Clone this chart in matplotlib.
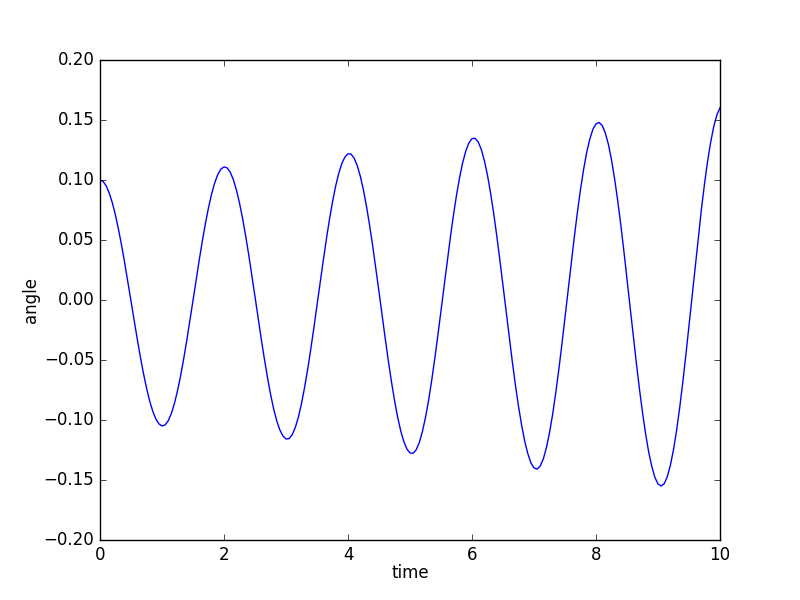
import matplotlib
matplotlib.use('Agg')
import matplotlib.pyplot as plt

# pendulum angle, one value every 0.05 s
time = [i / 20 for i in range(201)]
angle = [
    0.1000, 0.0988, 0.0951, 0.0890, 0.0808, 0.0705, 0.0584, 0.0450, 0.0304, 0.0150,
    -0.0009, -0.0168, -0.0323, -0.0472, -0.0609, -0.0733, -0.0839, -0.0925, -0.0991, -0.1032,
    -0.1050, -0.1041, -0.1007, -0.0947, -0.0863, -0.0757, -0.0632, -0.0490, -0.0336, -0.0172,
    -0.0004, 0.0165, 0.0331, 0.0490, 0.0637, 0.0769, 0.0883, 0.0976, 0.1046, 0.1091,
    0.1109, 0.1101, 0.1066, 0.1004, 0.0917, 0.0808, 0.0679, 0.0532, 0.0373, 0.0203,
    0.0028, -0.0148, -0.0321, -0.0487, -0.0642, -0.0783, -0.0906, -0.1006, -0.1082, -0.1133,
    -0.1158, -0.1155, -0.1123, -0.1062, -0.0976, -0.0863, -0.0728, -0.0576, -0.0408, -0.0230,
    -0.0045, 0.0142, 0.0326, 0.0503, 0.0668, 0.0817, 0.0947, 0.1054, 0.1137, 0.1191,
    0.1218, 0.1215, 0.1181, 0.1119, 0.1029, 0.0914, 0.0775, 0.0617, 0.0445, 0.0259,
    0.0068, -0.0127, -0.0319, -0.0505, -0.0678, -0.0836, -0.0974, -0.1090, -0.1179, -0.1242,
    -0.1275, -0.1277, -0.1248, -0.1188, -0.1097, -0.0978, -0.0836, -0.0670, -0.0487, -0.0292,
    -0.0089, 0.0118, 0.0322, 0.0519, 0.0704, 0.0873, 0.1021, 0.1145, 0.1242, 0.1309,
    0.1345, 0.1347, 0.1317, 0.1255, 0.1161, 0.1039, 0.0890, 0.0721, 0.0533, 0.0331,
    0.0120, -0.0094, -0.0307, -0.0513, -0.0708, -0.0885, -0.1042, -0.1176, -0.1280, -0.1357,
    -0.1399, -0.1409, -0.1384, -0.1325, -0.1231, -0.1107, -0.0955, -0.0777, -0.0581, -0.0368,
    -0.0146, 0.0080, 0.0305, 0.0524, 0.0731, 0.0921, 0.1088, 0.1230, 0.1341, 0.1423,
    0.1468, 0.1479, 0.1454, 0.1392, 0.1297, 0.1168, 0.1010, 0.0829, 0.0626, 0.0406,
    0.0176, -0.0059, -0.0293, -0.0521, -0.0738, -0.0937, -0.1115, -0.1268, -0.1386, -0.1479,
    -0.1532, -0.1550, -0.1531, -0.1472, -0.1377, -0.1247, -0.1086, -0.0897, -0.0685, -0.0455,
    -0.0212, 0.0035, 0.0282, 0.0525, 0.0755, 0.0967, 0.1156, 0.1317, 0.1447, 0.1543,
    0.1601,
]

plt.style.use('classic')
fig = plt.figure(figsize=(8, 6), dpi=100)
ax = fig.add_axes([0.125, 0.1, 0.775, 0.8])
ax.plot(time, angle, color='b', linewidth=1)
ax.set_xlim(0, 10)
ax.set_ylim(-0.2, 0.2)
ax.set_xlabel('time', labelpad=0)
ax.set_ylabel('angle', labelpad=3)
fig.savefig('out.png', dpi=100)
